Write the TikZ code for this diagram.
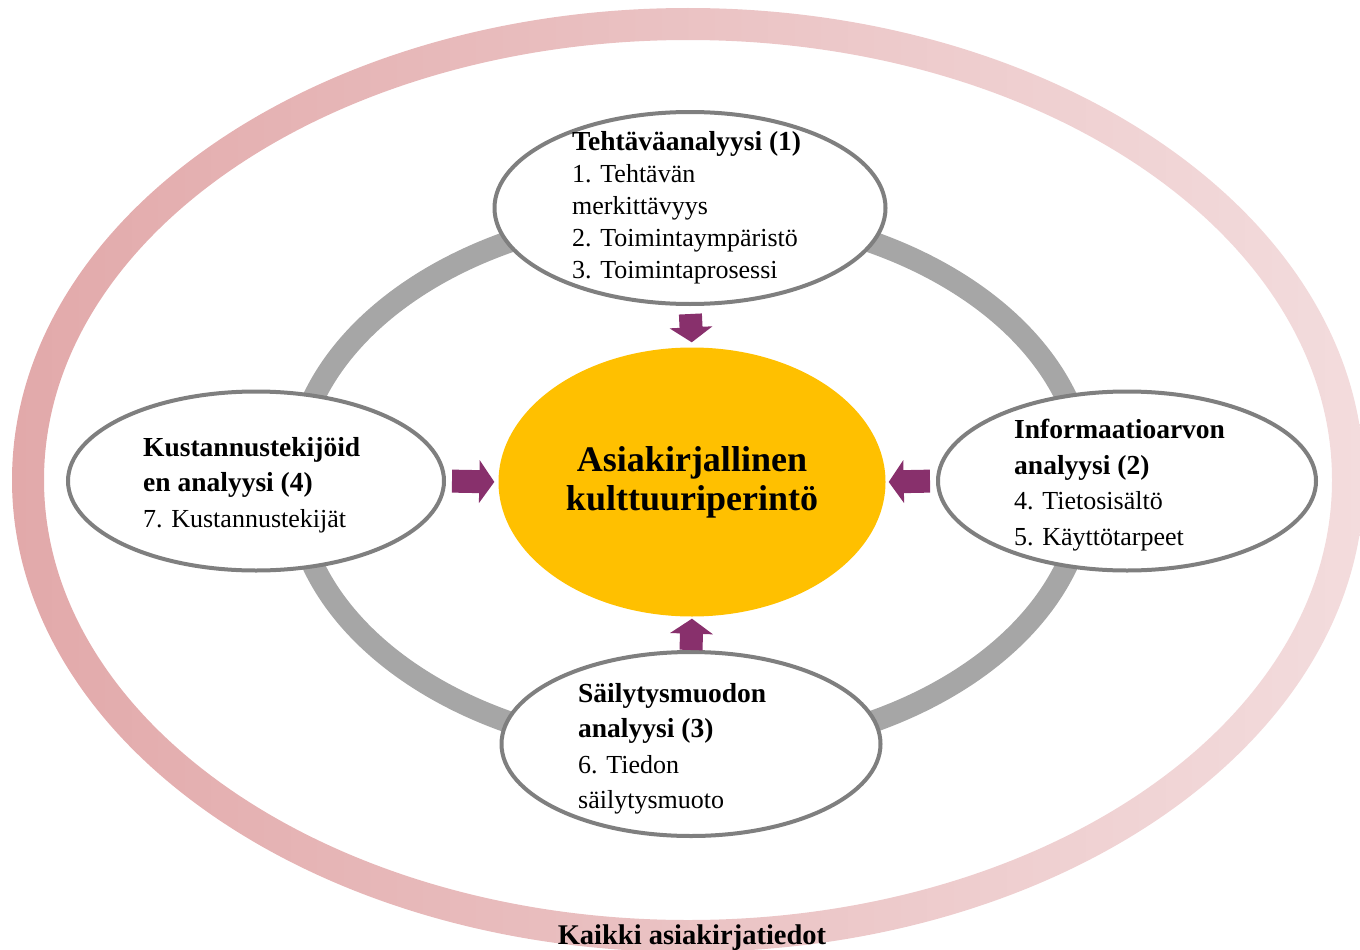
\documentclass[tikz,border=0pt]{standalone}
\usepackage{fontspec}
\setmainfont{Liberation Serif}
\usetikzlibrary{calc,shapes.geometric}
\definecolor{rose}{HTML}{E2A9AA}
\definecolor{blush}{HTML}{F3DCDD}
\definecolor{slate}{HTML}{A6A6A6}
\definecolor{rim}{HTML}{7F7F7F}
\definecolor{plum}{HTML}{88306C}
\definecolor{saffron}{HTML}{FFC000}
\newcommand{\hd}[1]{{\fontsize{27.5}{30}\selectfont\bfseries #1}}

\begin{document}
\begin{tikzpicture}[x=1pt,y=-1pt,
  bubble/.style={ellipse,draw=rim,line width=4pt,fill=white,inner sep=0pt},
  itemtext/.style={align=left,inner sep=0pt,anchor=west},
  core/.style={ellipse,fill=saffron,inner sep=0pt,align=center,font=\fontsize{36}{39}\selectfont\bfseries}]
\useasboundingbox (0,0) rectangle (1360,950);
% outer ring and grey loop
\shade[left color=rose,right color=blush,even odd rule] (688,480) ellipse (676 and 472) (688,480) ellipse (644 and 440);
\draw[slate,line width=22pt] (690,482) ellipse (396 and 270);
% the four analyses
\node[bubble,minimum width=391pt,minimum height=192pt] (tehtava) at (690,208) {};
\node[bubble,minimum width=376pt,minimum height=179pt] (kustannus) at (256,481) {};
\node[bubble,minimum width=378pt,minimum height=179pt] (informaatio) at (1127,481) {};
\node[bubble,minimum width=379pt,minimum height=184pt] (sailytys) at (691,744) {};
\node[core,minimum width=387pt,minimum height=269pt] (keskus) at (692,482) {Asiakirjallinen\\kulttuuriperintö};
\node[itemtext,font=\fontsize{26}{32}\selectfont] (tehtava-t) at (572,208)
  {\hd{Tehtäväanalyysi (1)}\\1. Tehtävän\\merkittävyys\\2. Toimintaympäristö\\3. Toimintaprosessi};
\node[itemtext,font=\fontsize{26}{35.5}\selectfont] (kustannus-t) at (143,485)
  {\hd{Kustannustekijöid}\\\hd{en analyysi (4)}\\7. Kustannustekijät};
\node[itemtext,font=\fontsize{26}{35.5}\selectfont] (informaatio-t) at (1014,485)
  {\hd{Informaatioarvon}\\\hd{analyysi (2)}\\4. Tietosisältö\\5. Käyttötarpeet};
\node[itemtext,font=\fontsize{26}{35.5}\selectfont] (sailytys-t) at (578,749)
  {\hd{Säilytysmuodon}\\\hd{analyysi (3)}\\6. Tiedon\\säilytysmuoto};
% block arrows into the centre
\foreach \a/\b/\s/\e in {tehtava.south/keskus.north/8/5,kustannus.east/keskus.west/6/4,
    informaatio.west/keskus.east/6/3,sailytys.north/keskus.south/0/2}{
  \coordinate (s) at ($(\a)!\s pt!(\b)$);
  \coordinate (e) at ($(\b)!\e pt!(\a)$);
  \coordinate (h) at ($(e)!15pt!(s)$);
  \fill[plum] ($(s)!11.5pt!90:(e)$) -- ($(h)!11.5pt!90:(e)$) -- ($(h)!21.5pt!90:(e)$) -- (e)
    -- ($(h)!21.5pt!-90:(e)$) -- ($(h)!11.5pt!-90:(e)$) -- ($(s)!11.5pt!-90:(e)$) -- cycle;
}
\node[anchor=base,font=\fontsize{28.5}{30}\selectfont\bfseries] (kaikki) at (692,944) {Kaikki asiakirjatiedot};
\end{tikzpicture}
\end{document}
